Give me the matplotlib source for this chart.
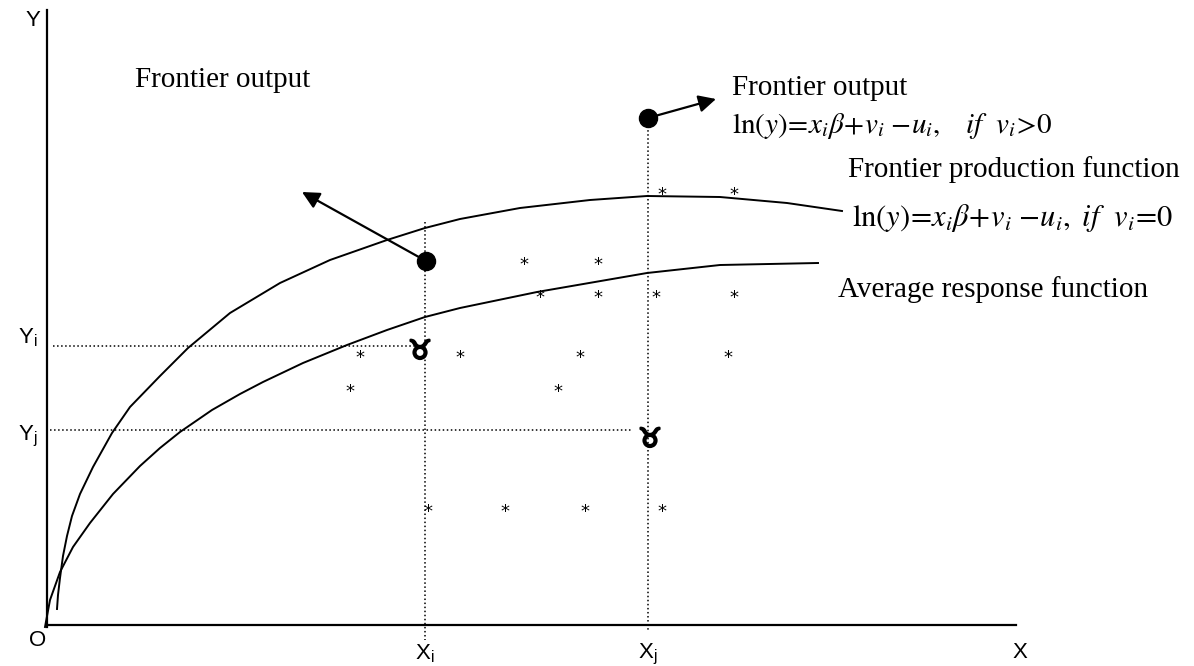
import matplotlib.pyplot as plt
import matplotlib.patheffects as pe

plt.rcParams['mathtext.fontset'] = 'stix'

# --- data (pixel space of the 1194x666 drawing) ---
frontier_x = [57, 58, 60, 63, 67, 72, 80, 93, 112, 130, 160, 188, 230, 280, 330, 387,
              425, 460, 520, 590, 647, 720, 787, 842]
frontier_y = [609, 595, 578, 556, 536, 516, 494, 467, 433, 407, 376, 348, 313, 283, 260, 240,
              228, 219, 208, 200, 196, 197, 203, 211]

average_x = [45, 50, 60, 73, 90, 113, 140, 160, 180, 212, 240, 263, 303, 347, 387, 425,
             460, 537, 647, 720, 818]
average_y = [627, 600, 572, 547, 523, 494, 466, 448, 432, 410, 394, 382, 363, 345, 330, 317,
             308, 292, 273, 265, 263]

star_x = [662, 734, 524, 598, 540, 598, 656, 734, 360, 460, 580, 728, 350, 558, 428, 505, 585, 662]
star_y = [193, 193, 263, 263, 296, 296, 296, 296, 356, 356, 356, 356, 390, 390, 510, 510, 510, 510]

ou_x = [420, 650]
ou_y = [352, 440]

dot_x = [426, 648]
dot_y = [261, 118]

xi, xj = 425, 648
yi, yj = 346, 430

fig = plt.figure(figsize=(11.94, 6.66), dpi=100)
ax = fig.add_axes([0, 0, 1, 1])
ax.set_xlim(0, 1194)
ax.set_ylim(666, 0)
ax.axis('off')

# axes of the diagram
ax.plot([47, 47], [10, 627], color='black', lw=1.6)
ax.plot([47, 1016], [625, 625], color='black', lw=1.6)

# curves
ax.plot(frontier_x, frontier_y, color='black', lw=1.4, solid_joinstyle='round')
ax.plot(average_x, average_y, color='black', lw=1.4, solid_joinstyle='round')

# dotted guide lines
ax.plot([53, 417], [yi, yi], color='black', lw=1.1, ls=':')
ax.plot([50, 632], [yj, yj], color='black', lw=1.1, ls=':')
ax.plot([xi, xi], [222, 640], color='black', lw=1.1, ls=':')
ax.plot([xj, xj], [118, 630], color='black', lw=1.1, ls=':')

# observations
for x, y in zip(star_x, star_y):
    ax.text(x, y + 2, '*', fontsize=13, family='DejaVu Sans', ha='center', va='center')
for x, y in zip(ou_x, ou_y):
    ax.text(x, y, '\u2649', fontsize=19, family='DejaVu Sans', ha='center', va='center',
            path_effects=[pe.withStroke(linewidth=1.6, foreground='black')])
ax.plot(dot_x, dot_y, 'o', color='black', ms=13)

# arrows
ax.annotate('', xy=(302, 192), xytext=(426, 261),
            arrowprops=dict(arrowstyle='-|>', color='black', lw=1.6, mutation_scale=26, shrinkA=0, shrinkB=0))
ax.annotate('', xy=(716, 99), xytext=(655, 116),
            arrowprops=dict(arrowstyle='-|>', color='black', lw=1.6, mutation_scale=26, shrinkA=0, shrinkB=0))

# texts
serif = 'Liberation Serif'
ax.text(135, 80, 'Frontier output', fontsize=21, family=serif, va='center')
ax.text(732, 88, 'Frontier output', fontsize=21, family=serif, va='center')
ax.text(732, 126, r'$\mathrm{ln}(y)\!=\!x_i\beta\!+\!v_i\;\!-\!u_i,\ \ \ if\ \ v_i\!>\!0$',
        fontsize=21, va='center')
ax.text(848, 170, 'Frontier production function', fontsize=21, family=serif, va='center')
ax.text(852, 218, r'$\mathrm{ln}(y)\!=\!x_i\beta\!+\!v_i\;\!-\!u_i,\ if\ \ v_i\!=\!0$',
        fontsize=22, va='center')
ax.text(838, 290, 'Average response function', fontsize=21, family=serif, va='center')

sans = 'Liberation Sans'
ax.text(33, 20, 'Y', fontsize=16, family=sans, ha='center', va='center')
ax.text(28, 338, r'$\mathregular{Y_i}$', fontsize=16, family=sans, ha='center', va='center')
ax.text(28, 436, r'$\mathregular{Y_j}$', fontsize=16, family=sans, ha='center', va='center')
ax.text(38, 640, 'O', fontsize=16, family=sans, ha='center', va='center')
ax.text(xi, 654, r'$\mathregular{X_i}$', fontsize=16, family=sans, ha='center', va='center')
ax.text(xj, 654, r'$\mathregular{X_j}$', fontsize=16, family=sans, ha='center', va='center')
ax.text(1020, 652, 'X', fontsize=16, family=sans, ha='center', va='center')

fig.savefig('out.png', dpi=100)
